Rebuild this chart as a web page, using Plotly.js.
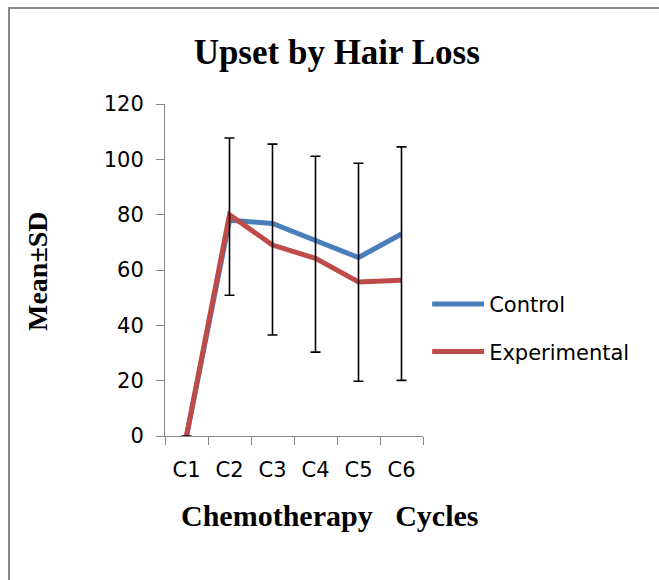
<!DOCTYPE html>
<html>
<head>
<meta charset="utf-8">
<script src="https://cdn.plot.ly/plotly-3.0.1.min.js"></script>
<style>
  html, body { margin: 0; padding: 0; background: #fff; }
  #wrap { position: relative; width: 659px; height: 580px; overflow: hidden; }
  #chart { width: 659px; height: 580px; }
  #frame { position: absolute; left: 8px; top: 7px; width: 700px; height: 700px;
           border-left: 2px solid #868686; border-top: 2px solid #868686; pointer-events: none; }
</style>
</head>
<body>
<div id="wrap">
  <div id="chart"></div>
  <div id="frame"></div>
</div>
<script>
// ---- data ----
const categories   = ['C1', 'C2', 'C3', 'C4', 'C5', 'C6'];
const control      = [0, 78.0, 76.8, 70.6, 64.5, 73.0];
const experimental = [0, 80.0, 69.0, 64.2, 55.7, 56.3];
const sdCenter     = [0, 79.3, 71.0, 65.7, 59.2, 62.3];
const sdValue      = [0, 28.4, 34.5, 35.4, 39.4, 42.2];
const yTicks       = [0, 20, 40, 60, 80, 100, 120];

const axisGray = '#868686';
const tickFont = { family: 'DejaVu Sans, sans-serif', size: 21, color: '#000' };
const serifBold = 'Liberation Serif, Times New Roman, serif';

const traces = [
  {
    x: categories, y: control, name: 'Control', type: 'scatter', mode: 'lines',
    line: { color: '#4A7EBB', width: 5 }, legendgroup: 'a'
  },
  {
    x: categories, y: experimental, name: 'Experimental', type: 'scatter', mode: 'lines',
    line: { color: '#BE4B48', width: 5 }, legendgroup: 'b'
  },
  {
    x: categories, y: sdCenter, name: 'SD', type: 'scatter', mode: 'markers',
    marker: { opacity: 0, size: 1 }, showlegend: false, hoverinfo: 'skip',
    error_y: { type: 'data', array: sdValue, visible: true, color: '#000', thickness: 1.6, width: 5 }
  }
];

const layout = {
  width: 659, height: 580,
  paper_bgcolor: '#fff', plot_bgcolor: '#fff',
  margin: { l: 165, r: 236, t: 104, b: 144, pad: 0 },
  title: {
    text: '<b>Upset by Hair Loss</b>',
    font: { family: serifBold, size: 35, color: '#000' },
    x: 0.511, xref: 'container', xanchor: 'center',
    y: 0.91, yref: 'container', yanchor: 'middle'
  },
  xaxis: {
    type: 'category', range: [-0.5, 5.5],
    showline: true, linecolor: axisGray, linewidth: 1,
    ticks: 'outside', ticklen: 8, tickcolor: axisGray, tickwidth: 1,
    tickson: 'boundaries', showgrid: false, zeroline: false,
    tickfont: tickFont, ticklabelstandoff: 15, fixedrange: true
  },
  yaxis: {
    range: [0, 120], tickvals: yTicks, ticktext: yTicks.map(String),
    showline: true, linecolor: axisGray, linewidth: 1,
    ticks: 'outside', ticklen: 8, tickcolor: axisGray, tickwidth: 1,
    showgrid: false, zeroline: false, tickfont: tickFont,
    ticklabelstandoff: 8, fixedrange: true
  },
  showlegend: true,
  legend: {
    x: 1.016, xanchor: 'left', y: 0.458, yanchor: 'top',
    font: tickFont, bgcolor: 'rgba(0,0,0,0)', borderwidth: 0,
    tracegroupgap: 17, itemwidth: 52
  },
  annotations: [
    {
      text: '<b>Chemotherapy\u00a0\u00a0\u00a0Cycles</b>',
      xref: 'paper', yref: 'paper', x: (329 - 165) / 258, y: (436 - 515) / 332,
      xanchor: 'center', yanchor: 'middle', showarrow: false,
      font: { family: serifBold, size: 30, color: '#000' }
    },
    {
      text: '<b>Mean±SD</b>',
      xref: 'paper', yref: 'paper', x: (37 - 165) / 258, y: (436 - 271) / 332,
      xanchor: 'center', yanchor: 'middle', showarrow: false, textangle: -90,
      font: { family: serifBold, size: 28, color: '#000' }
    }
  ]
};

Plotly.newPlot('chart', traces, layout, { displayModeBar: false, staticPlot: true });
</script>
</body>
</html>
